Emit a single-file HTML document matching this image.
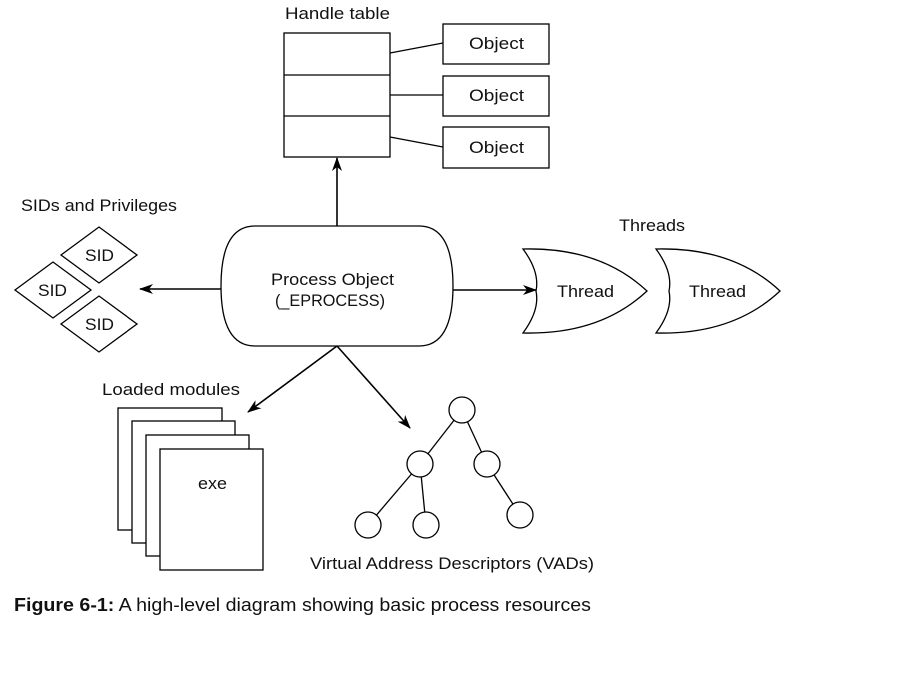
<!DOCTYPE html>
<html><head><style>
body{margin:0;background:#fff;}
svg text{font-family:"Liberation Sans",sans-serif;fill:#111;}
</style></head><body>
<svg width="922" height="669" viewBox="0 0 922 669" xmlns="http://www.w3.org/2000/svg">
<defs><marker id="a" markerWidth="14" markerHeight="10" refX="13" refY="5" orient="auto" markerUnits="userSpaceOnUse"><path d="M0,0 L14,5 L0,10 L4,5 z" fill="#000"/></marker></defs>
<g fill="none" stroke="#000" stroke-width="1.3">
<rect x="284" y="33" width="106" height="124"/>
<line x1="284" y1="75" x2="390" y2="75"/><line x1="284" y1="116" x2="390" y2="116"/>
<rect x="443" y="24" width="106" height="40"/><rect x="443" y="76" width="106" height="40"/><rect x="443" y="127" width="106" height="41"/>
<line x1="390" y1="53" x2="443" y2="43"/><line x1="390" y1="95" x2="443" y2="95"/><line x1="390" y1="137" x2="443" y2="147"/>
<path d="M255,226 H419 Q453,226 453,286 Q453,346 419,346 H255 Q221,346 221,286 Q221,226 255,226 Z"/>
<path d="M61,255 L99,227 L137,255 L99,283 Z" fill="#fff"/>
<path d="M15,290 L53,262 L91,290 L53,318 Z" fill="#fff"/>
<path d="M61,324 L99,296 L137,324 L99,352 Z" fill="#fff"/>
<path d="M523,249 Q600,247 647,291 Q600,335 523,333 Q540,310 536,291 Q540,272 523,249 Z"/>
<path d="M656,249 Q733,247 780,291 Q733,335 656,333 Q673,310 669,291 Q673,272 656,249 Z"/>
<rect x="118" y="408" width="104" height="122" fill="#fff"/>
<rect x="132" y="421" width="103" height="122" fill="#fff"/>
<rect x="146" y="435" width="103" height="121" fill="#fff"/>
<rect x="160" y="449" width="103" height="121" fill="#fff"/>
<line x1="462" y1="410" x2="420" y2="464"/><line x1="462" y1="410" x2="487" y2="464"/>
<line x1="420" y1="464" x2="368" y2="525"/><line x1="420" y1="464" x2="426" y2="525"/>
<line x1="487" y1="464" x2="520" y2="515"/>
<g fill="#fff"><circle cx="462" cy="410" r="13"/><circle cx="420" cy="464" r="13"/><circle cx="487" cy="464" r="13"/><circle cx="368" cy="525" r="13"/><circle cx="426" cy="525" r="13"/><circle cx="520" cy="515" r="13"/></g>
<g stroke-width="1.6" marker-end="url(#a)">
<line x1="337" y1="226" x2="337" y2="158"/>
<line x1="221" y1="289" x2="140" y2="289"/>
<line x1="453" y1="290" x2="536" y2="290"/>
<line x1="337" y1="346" x2="248" y2="412"/>
<line x1="337" y1="346" x2="410" y2="428"/>
</g>
</g>
<g font-size="17">
<text x="285" y="19" textLength="105" lengthAdjust="spacingAndGlyphs">Handle table</text>
<text x="469" y="49" textLength="55" lengthAdjust="spacingAndGlyphs">Object</text>
<text x="469" y="101" textLength="55" lengthAdjust="spacingAndGlyphs">Object</text>
<text x="469" y="153" textLength="55" lengthAdjust="spacingAndGlyphs">Object</text>
<text x="21" y="211" textLength="156" lengthAdjust="spacingAndGlyphs">SIDs and Privileges</text>
<text x="85" y="261" textLength="29" lengthAdjust="spacingAndGlyphs">SID</text>
<text x="38" y="296" textLength="29" lengthAdjust="spacingAndGlyphs">SID</text>
<text x="85" y="330" textLength="29" lengthAdjust="spacingAndGlyphs">SID</text>
<text x="271" y="285" textLength="123" lengthAdjust="spacingAndGlyphs">Process Object</text>
<text x="275" y="306" textLength="110" lengthAdjust="spacingAndGlyphs">(_EPROCESS)</text>
<text x="619" y="231" textLength="66" lengthAdjust="spacingAndGlyphs">Threads</text>
<text x="557" y="297" textLength="57" lengthAdjust="spacingAndGlyphs">Thread</text>
<text x="689" y="297" textLength="57" lengthAdjust="spacingAndGlyphs">Thread</text>
<text x="102" y="395" textLength="138" lengthAdjust="spacingAndGlyphs">Loaded modules</text>
<text x="198" y="489" textLength="29" lengthAdjust="spacingAndGlyphs">exe</text>
<text x="310" y="569" textLength="284" lengthAdjust="spacingAndGlyphs">Virtual Address Descriptors (VADs)</text>
<text x="14" y="611" font-size="18" textLength="577" lengthAdjust="spacingAndGlyphs"><tspan font-weight="bold">Figure 6-1:</tspan>  A high-level diagram showing basic process resources</text>
</g>
</svg>
</body></html>
